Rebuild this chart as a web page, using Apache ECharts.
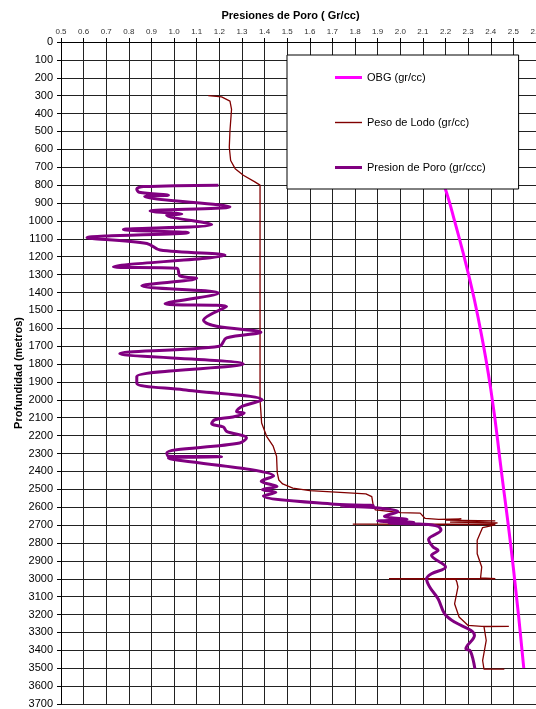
<!DOCTYPE html>
<html>
<head>
<meta charset="utf-8">
<script src="https://cdn.jsdelivr.net/npm/echarts@6/dist/echarts.min.js"></script>
<style>
  html, body { margin: 0; padding: 0; background: #fff; }
  #chart { width: 536px; height: 709px; }
</style>
</head>
<body>
<div id="chart"></div>
<script>
// OBG (gr/cc)
const obgDepth = [300, 500, 700, 840, 1000, 1290, 1540, 1940, 2400, 2940, 3500]
const obgValue = [2.05, 2.11, 2.165, 2.204, 2.24, 2.30, 2.344, 2.40, 2.447, 2.50, 2.546]

// Peso de Lodo (gr/cc)
const lodoDepth = [300, 307, 330, 376, 496, 588, 662, 708, 745, 782, 800, 2000, 2130, 2204, 2259, 2315,
  2407, 2448, 2470, 2494, 2507, 2526, 2541, 2587, 2615, 2630, 2633, 2663, 2668, 2665, 2672, 2676,
  2683, 2688, 2694, 2695, 2697, 2705, 2714, 2785, 2860, 2934, 2995, 3000, 3000, 3003, 3018, 3046,
  3140, 3214, 3261, 3266, 3266, 3268, 3345, 3457, 3505, 3505]
const lodoValue = [1.151, 1.21, 1.247, 1.254, 1.247, 1.244, 1.25, 1.27, 1.306, 1.357, 1.38, 1.38, 1.387, 1.409, 1.438, 1.453,
  1.456, 1.463, 1.48, 1.525, 1.60, 1.848, 1.874, 1.88, 1.89, 2.00, 2.088, 2.11, 2.17, 2.27, 2.20, 2.42,
  2.22, 2.43, 2.40, 1.79, 2.42, 2.40, 2.364, 2.34, 2.34, 2.36, 2.355, 2.42, 1.95, 2.245, 2.25, 2.255,
  2.24, 2.26, 2.30, 2.36, 2.48, 2.37, 2.38, 2.364, 2.37, 2.46]

// Presion de Poro (gr/ccc)
const poroDepth = [800, 808, 822, 840, 856, 864, 921, 945, 962, 968, 1020, 1048, 1066, 1094, 1126, 1163,
  1191, 1256, 1265, 1307, 1320, 1363, 1404, 1463, 1478, 1555, 1589, 1622, 1654, 1700, 1741, 1800,
  1870, 1907, 1944, 2000, 2037, 2065, 2074, 2096, 2111, 2133, 2152, 2176, 2213, 2241, 2296, 2315,
  2318, 2326, 2426, 2455, 2485, 2502, 2517, 2537, 2583, 2590, 2594, 2602, 2625, 2650, 2668, 2677,
  2685, 2689, 2695, 2707, 2728, 2780, 2822, 2841, 2869, 2934, 2972, 3000, 3046, 3112, 3196, 3242,
  3289, 3317, 3391, 3404, 3503]
const poroValue = [1.196, 0.865, 0.835, 0.845, 0.975, 0.87, 1.247, 0.894, 1.034, 0.967, 1.166, 0.776, 1.063, 0.615, 0.88, 0.938,
  1.225, 0.732, 1.012, 1.026, 1.10, 0.857, 1.196, 0.96, 1.232, 1.13, 1.188, 1.384, 1.232, 1.20, 0.76, 1.306,
  0.835, 0.835, 1.04, 1.39, 1.30, 1.276, 1.31, 1.26, 1.18, 1.166, 1.218, 1.232, 1.32, 1.29, 0.968, 0.975,
  1.21, 0.975, 1.44, 1.385, 1.455, 1.39, 1.45, 1.395, 1.71, 1.88, 1.74, 1.88, 1.99, 1.93, 2.03, 1.90,
  2.06, 1.95, 2.10, 2.167, 2.18, 2.125, 2.145, 2.167, 2.138, 2.20, 2.138, 2.116, 2.13, 2.167, 2.196, 2.24,
  2.313, 2.328, 2.29, 2.31, 2.33]

const pairs = (vals, deps) => deps.map((d, i) => [vals[i], d])

const font = 'Liberation Sans, Arial, sans-serif'
const chart = echarts.init(document.getElementById('chart'))
chart.setOption({
  animation: false,
  textStyle: { fontFamily: font },
  grid: { left: 61, top: 42, right: 0, bottom: 5, containLabel: false, outerBoundsMode: 'none' },
  legend: {
    orient: 'vertical',
    left: 287,
    top: 55,
    padding: [17, 33, 16, 48],
    itemGap: 34,
    itemWidth: 27,
    itemHeight: 12,
    symbolKeepAspect: true,
    backgroundColor: '#fff',
    borderColor: '#000',
    borderWidth: 1,
    borderRadius: 0,
    textStyle: { color: '#000', fontSize: 11, fontFamily: font },
    data: [
      { name: 'OBG (gr/cc)', icon: 'path://M0,0H27V3H0Z' },
      { name: 'Peso de Lodo (gr/cc)', icon: 'path://M0,0H27V1.4H0Z' },
      { name: 'Presion de Poro (gr/ccc)', icon: 'path://M0,0H27V3H0Z' }
    ]
  },
  xAxis: {
    type: 'value',
    position: 'top',
    min: 0.5,
    max: 2.6,
    interval: 0.1,
    name: 'Presiones de Poro ( Gr/cc)',
    nameLocation: 'middle',
    nameGap: 21,
    nameMoveOverlap: false,
    nameTextStyle: { fontWeight: 'bold', fontSize: 11, color: '#000', padding: [0, 16, 0, 0] },
    axisLine: { show: true, lineStyle: { color: '#000', width: 1 } },
    axisTick: { show: true, length: 4, lineStyle: { color: '#000' } },
    axisLabel: { fontSize: 8, color: '#333', margin: 6, formatter: v => v.toFixed(1) },
    splitLine: { show: true, lineStyle: { color: '#222', width: 1 } }
  },
  yAxis: {
    type: 'value',
    inverse: true,
    min: 0,
    max: 3700,
    interval: 100,
    name: 'Profundidad (metros)',
    nameLocation: 'middle',
    nameGap: 37,
    nameMoveOverlap: false,
    nameTextStyle: { fontWeight: 'bold', fontSize: 11, color: '#000' },
    axisLine: { show: true, lineStyle: { color: '#000', width: 1 } },
    axisTick: { show: true, length: 4, lineStyle: { color: '#000' } },
    axisLabel: { fontSize: 11, color: '#000', margin: 8, formatter: v => String(v) },
    splitLine: { show: true, lineStyle: { color: '#222', width: 1 } }
  },
  series: [
    {
      name: 'OBG (gr/cc)',
      type: 'line',
      smooth: true,
      symbol: 'none',
      color: '#ff00ff',
      lineStyle: { color: '#ff00ff', width: 3 },
      data: pairs(obgValue, obgDepth)
    },
    {
      name: 'Peso de Lodo (gr/cc)',
      type: 'line',
      symbol: 'none',
      color: '#800000',
      lineStyle: { color: '#800000', width: 1.3 },
      data: pairs(lodoValue, lodoDepth)
    },
    {
      name: 'Presion de Poro (gr/ccc)',
      type: 'line',
      smooth: 0.35,
      symbol: 'none',
      color: '#800080',
      lineStyle: { color: '#800080', width: 3 },
      data: pairs(poroValue, poroDepth)
    }
  ]
})
</script>
</body>
</html>
